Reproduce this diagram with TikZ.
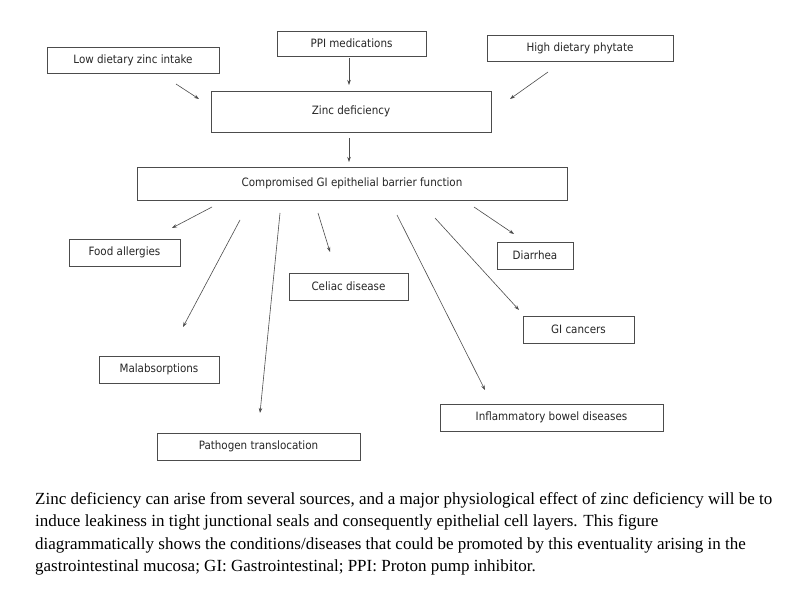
\documentclass[tikz,border=0pt]{standalone}
\usepackage{fontspec}
\setmainfont{Liberation Serif}
\newfontfamily\boxfont{DejaVu Sans Condensed}
\usetikzlibrary{arrows.meta}
\begin{document}
\begin{tikzpicture}[x=1pt,y=-1pt,
 bx/.style={draw=black!70,line width=0.7pt,inner sep=0pt,font=\boxfont\fontsize{11.5}{13}\selectfont,text=black!85},
 ar/.style={draw=black!70,line width=0.6pt,-{Stealth[length=5pt,width=3.5pt]}}]
\useasboundingbox (0,0) rectangle (800,596);
\fill[white] (0,0) rectangle (800,596);
\newcommand{\bxn}[6]{\node[bx,minimum width=#4-#2,minimum height=#5-#3] (#1) at ({(#2+#4)/2},{(#3+#5)/2}) {#6};}
\bxn{low}{47}{47}{219}{73}{Low dietary zinc intake}
\bxn{ppi}{277}{31}{426}{56}{PPI medications}
\bxn{phy}{487}{35}{673}{61}{High dietary phytate}
\bxn{zd}{211}{91}{491}{132}{Zinc deficiency}
\bxn{cgi}{137}{167}{567}{200}{Compromised GI epithelial barrier function}
\bxn{fa}{69}{239}{180}{266}{Food allergies}
\bxn{dia}{497}{242}{573}{269}{Diarrhea}
\bxn{cel}{289}{273}{408}{300}{Celiac disease}
\bxn{gic}{523}{316}{634}{343}{GI cancers}
\bxn{mal}{99}{356}{219}{383}{Malabsorptions}
\bxn{ibd}{440}{404}{663}{431}{Inflammatory bowel diseases}
\bxn{pat}{157}{433}{360}{460}{Pathogen translocation}
\coordinate (a1) at (176,84); \coordinate (b1) at (199,99);
\coordinate (a2) at (349,58); \coordinate (b2) at (349,85);
\coordinate (a3) at (548,72); \coordinate (b3) at (510,99);
\coordinate (a4) at (349,138); \coordinate (b4) at (349,162);
\coordinate (c1) at (212,207); \coordinate (d1) at (172,228);
\coordinate (c2) at (240,220); \coordinate (d2) at (183,327);
\coordinate (c3) at (280,213); \coordinate (d3) at (260,413);
\coordinate (c4) at (318,213); \coordinate (d4) at (330,252);
\coordinate (c5) at (397,215); \coordinate (d5) at (485,390);
\coordinate (c6) at (435,218); \coordinate (d6) at (519,310);
\coordinate (c7) at (474,207); \coordinate (d7) at (514,234);
\foreach \i in {1,2,3,4} \draw[ar] (a\i) -- (b\i);
\foreach \i in {1,...,7} \draw[ar] (c\i) -- (d\i);
\node[anchor=north west,align=left,inner sep=0pt,font=\fontsize{17}{22.5}\selectfont] (cap) at (35,492) {Zinc deficiency can arise from several sources, and a major physiological effect of zinc deficiency will be to\\ induce leakiness in tight junctional seals and consequently epithelial cell layers. This figure\\ diagrammatically shows the conditions/diseases that could be promoted by this eventuality arising in the\\ gastrointestinal mucosa; GI: Gastrointestinal; PPI: Proton pump inhibitor.};
\end{tikzpicture}
\end{document}
